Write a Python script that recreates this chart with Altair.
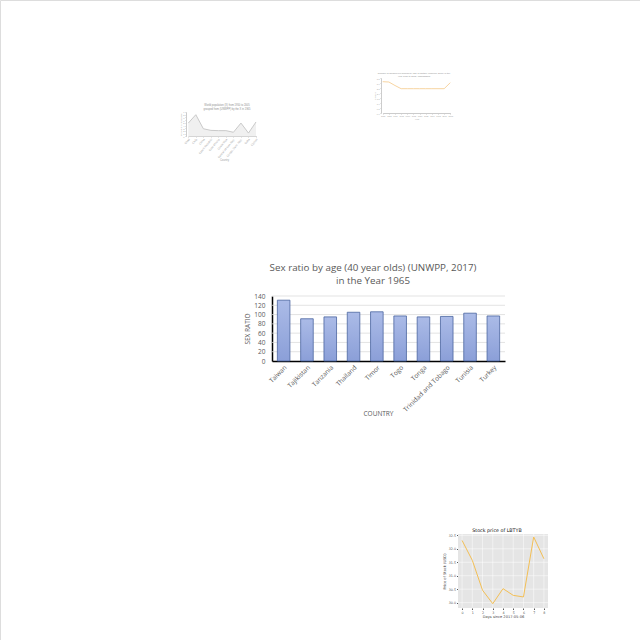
import altair as alt
import pandas as pd

# ---------------- main chart (bar) ----------------
countries = ["Taiwan", "Tajikistan", "Tanzania", "Thailand", "Timor", "Togo",
             "Tonga", "Trinidad and Tobago", "Tunisia", "Turkey"]
sex_ratio = [131, 91, 95, 105, 106, 97, 95, 96, 103, 97]
ratio_ticks = [0, 20, 40, 60, 80, 100, 120, 140]
main_title = ["Sex ratio by age (40 year olds) (UNWPP, 2017)", "in the Year 1965"]

# ---------------- thumbnail 1 (grey line) ----------------
t1_labels = ["Chad", "Chile", "China", "Czech Republic", "Cote d'Ivoire", "Costa Rica",
             "Central African Rep.", "Congo, Dem. Rep.", "Cuba", "Cyprus"]
t1_values = [4.9, 8.0, 2.8, 2.2, 2.1, 2.1, 1.5, 4.9, 1.2, 5.3]
t1_ticks = [0, 1, 2, 3, 4, 5, 6, 7, 8, 9]
t1_title = ["World population (X) from 1950 to 2005", "grouped from (UNWPP) by the X in 1965"]

# ---------------- thumbnail 2 (orange line) ----------------
t2_years = ["1950", "1955", "1960", "1965", "1970", "1975", "1980", "1985",
            "1990", "1995", "2000", "2005"]
t2_values = [3.13, 3.10, 2.75, 2.43, 2.43, 2.43, 2.43, 2.43, 2.43, 2.43, 2.43, 3.03]
t2_ticks = [0, 0.5, 1.0, 1.5, 2.0, 2.5, 3.0, 3.5]
t2_title = ["Number of children per woman by age of mother (UNWPP, 2017) in the",
            "Year 1950 to 2005, Madagascar"]

# ---------------- thumbnail 3 (stock) ----------------
days = [0, 1, 2, 3, 4, 5, 6, 7, 8]
price = [32.31, 31.57, 30.46, 29.96, 30.52, 30.27, 30.21, 32.44, 31.63]
price_ticks = [30.0, 30.5, 31.0, 31.5, 32.0, 32.5]
day_domain = [-0.4, 8.4]
price_domain = [29.8, 32.55]
stock_title = "Stock price of LBTYB"

GREY = "#595959"

# ======== main bar chart ========
main_df = pd.DataFrame({"country": countries, "ratio": sex_ratio})
grid_df = pd.DataFrame({"ratio": ratio_ticks[1:]})
y_main = alt.Scale(domain=[0, 140], range=[361, 296], nice=False, zero=True)
y_main_axis = alt.Axis(orient="left", offset=-272, values=ratio_ticks, domainColor="#000000",
                       domainWidth=1.5, ticks=False, grid=False, labelFont="Open Sans",
                       labelFontSize=6.5, labelColor=GREY, labelPadding=7,
                       title="SEX RATIO", titleFont="Open Sans", titleFontSize=6.5,
                       titleFontWeight="normal", titleColor=GREY, titlePadding=3)

main_grid = alt.Chart(grid_df).mark_rule(color="#d9d9d9", strokeWidth=0.75).encode(
    y=alt.Y("ratio:Q", scale=y_main, axis=y_main_axis),
    x=alt.value(272), x2=alt.value(505),
)

bar_fill = alt.Gradient(
    gradient="linear",
    stops=[alt.GradientStop(color="#abbbe7", offset=0),
           alt.GradientStop(color="#8b9fd8", offset=1)],
    x1=0, x2=0, y1=0, y2=1,
)

main_bars = alt.Chart(main_df).mark_bar(fill=bar_fill, stroke="#4a64a0", strokeWidth=0.8).encode(
    x=alt.X("country:N", sort=countries,
            scale=alt.Scale(range=[272, 505], paddingInner=0.46, paddingOuter=0.23),
            axis=alt.Axis(orient="bottom", offset=-279, domainColor="#000000", domainWidth=1.5,
                          ticks=False, grid=False, labelAngle=-45, labelFont="Open Sans",
                          labelFontSize=6.5, labelColor=GREY, labelPadding=3,
                          title="COUNTRY", titleFont="Open Sans", titleFontSize=6.5,
                          titleFontWeight="normal", titleColor=GREY, titleX=378, titleY=52,
                          titleAlign="center", titleBaseline="middle")),
    y=alt.Y("ratio:Q", scale=y_main, axis=y_main_axis),
)
main_chart = alt.layer(main_grid, main_bars)

main_title_text = alt.Chart(pd.DataFrame({"t": ["\n".join(main_title)]})).mark_text(
    font="Open Sans", fontSize=9.8, color=GREY, align="center", baseline="middle",
    lineBreak="\n", lineHeight=12.5,
).encode(text="t:N", x=alt.value(373), y=alt.value(268))

# ======== thumbnail 1 ========
t1_df = pd.DataFrame({"c": t1_labels, "v": t1_values})
x_t1 = alt.Scale(type="point", domain=t1_labels, range=[188.3, 256], padding=0)
y_t1 = alt.Scale(domain=[0, 9], range=[136.3, 112], nice=False)
x_t1_axis = alt.Axis(orient="bottom", offset=-504, labelAngle=-50, labelFontSize=2.8,
                     labelColor="#a0a0a0", domainColor="#cccccc", tickColor="#cccccc",
                     tickSize=1, labelPadding=1, grid=False, title="Country",
                     titleFontSize=2.6, titleColor="#a0a0a0", titleFontWeight="normal",
                     titleX=224, titleY=23, titleAlign="center")
y_t1_axis = alt.Axis(orient="left", offset=-186, values=t1_ticks, labelFontSize=2.3,
                     labelColor="#a0a0a0", domainColor="#cccccc", tickColor="#cccccc",
                     tickSize=1, labelPadding=1, grid=False,
                     title="Population (thousands)", titleFontSize=2.2,
                     titleColor="#a0a0a0", titleFontWeight="normal", titlePadding=1)
t1_area = alt.Chart(t1_df).mark_area(color="#f0f0f0").encode(
    x=alt.X("c:N", sort=t1_labels, scale=x_t1, axis=x_t1_axis),
    y=alt.Y("v:Q", scale=y_t1, axis=y_t1_axis),
)
t1_line = alt.Chart(t1_df).mark_line(color="#c4c4c4", strokeWidth=0.9).encode(
    x=alt.X("c:N", sort=t1_labels, scale=x_t1, axis=x_t1_axis),
    y=alt.Y("v:Q", scale=y_t1, axis=y_t1_axis),
)
t1_chart = alt.layer(t1_area, t1_line)
t1_title_text = alt.Chart(pd.DataFrame({"t": ["\n".join(t1_title)]})).mark_text(
    fontSize=2.6, color="#909090", align="center", baseline="middle",
    lineBreak="\n", lineHeight=4.5,
).encode(text="t:N", x=alt.value(227), y=alt.value(104.5))

# ======== thumbnail 2 ========
t2_df = pd.DataFrame({"yr": t2_years, "v": t2_values})
t2_chart = alt.Chart(t2_df).mark_line(color="#f6cf96", strokeWidth=0.9).encode(
    x=alt.X("yr:N", sort=t2_years,
            scale=alt.Scale(type="point", domain=t2_years, range=[382.7, 450.3], padding=0),
            axis=alt.Axis(orient="bottom", offset=-527, labelAngle=0, labelFontSize=2,
                          labelColor="#a0a0a0", domainColor="#cccccc", tickColor="#cccccc",
                          tickSize=1, labelPadding=0.5, grid=False, title="Year",
                          titleFontSize=2.2, titleColor="#a0a0a0", titleFontWeight="normal",
                          titlePadding=1)),
    y=alt.Y("v:Q", scale=alt.Scale(domain=[0, 3.5], range=[113, 78], nice=False),
            axis=alt.Axis(orient="left", offset=-381, values=t2_ticks, format=".1f",
                          labelFontSize=2, labelColor="#a0a0a0", domainColor="#cccccc",
                          tickColor="#cccccc", tickSize=1, labelPadding=1, grid=False,
                          title="Children", titleFontSize=2, titleColor="#a0a0a0",
                          titleFontWeight="normal", titlePadding=1)),
)
t2_title_text = alt.Chart(pd.DataFrame({"t": ["\n".join(t2_title)]})).mark_text(
    fontSize=2.3, color="#909090", align="center", baseline="middle",
    lineBreak="\n", lineHeight=3.8,
).encode(text="t:N", x=alt.value(414), y=alt.value(72.5))

# ======== thumbnail 3 (stock) ========
x_st = alt.Scale(domain=day_domain, range=[458, 548], nice=False, zero=False)
y_st = alt.Scale(domain=price_domain, range=[608, 534], nice=False, zero=False)
x_st_axis = alt.Axis(orient="bottom", offset=-32, values=days, domain=False,
                     tickColor="#555555", tickSize=1.5, labelFontSize=3.3,
                     labelColor="#555555", labelPadding=0.5, grid=False,
                     labelFont="DejaVu Sans", title="Days since 2017-05-06",
                     titleFont="DejaVu Sans", titleFontSize=3.6, titleColor="#444444",
                     titleFontWeight="normal", titlePadding=0.8)
y_st_axis = alt.Axis(orient="left", offset=-458, values=price_ticks, format=".1f",
                     domain=False, tickColor="#555555", tickSize=1.5, labelFontSize=3.3,
                     labelColor="#555555", labelPadding=1, grid=False,
                     labelFont="DejaVu Sans", title="Price of Stock (USD)",
                     titleFont="DejaVu Sans", titleFontSize=3.6, titleColor="#444444",
                     titleFontWeight="normal", titlePadding=1.5)

bg_df = pd.DataFrame({"d": [day_domain[0]], "d2": [day_domain[1]],
                      "p": [price_domain[0]], "p2": [price_domain[1]]})
st_bg = alt.Chart(bg_df).mark_rect(color="#e5e5e5").encode(
    x=alt.X("d:Q", scale=x_st, axis=x_st_axis), x2="d2:Q",
    y=alt.Y("p:Q", scale=y_st, axis=y_st_axis), y2="p2:Q",
)
hgrid_df = pd.DataFrame({"p": price_ticks, "d": day_domain[0], "d2": day_domain[1]})
vgrid_df = pd.DataFrame({"d": days, "p": price_domain[0], "p2": price_domain[1]})
st_hgrid = alt.Chart(hgrid_df).mark_rule(color="#ffffff", strokeWidth=0.5).encode(
    y=alt.Y("p:Q", scale=y_st, axis=y_st_axis),
    x=alt.X("d:Q", scale=x_st, axis=x_st_axis), x2="d2:Q",
)
st_vgrid = alt.Chart(vgrid_df).mark_rule(color="#ffffff", strokeWidth=0.5).encode(
    x=alt.X("d:Q", scale=x_st, axis=x_st_axis),
    y=alt.Y("p:Q", scale=y_st, axis=y_st_axis), y2="p2:Q",
)
st_df = pd.DataFrame({"d": days, "p": price})
st_line = alt.Chart(st_df).mark_line(color="#f3bf55", strokeWidth=1).encode(
    x=alt.X("d:Q", scale=x_st, axis=x_st_axis),
    y=alt.Y("p:Q", scale=y_st, axis=y_st_axis),
)
st_chart = alt.layer(st_bg, st_hgrid, st_vgrid, st_line)
st_title_text = alt.Chart(pd.DataFrame({"t": [stock_title]})).mark_text(
    font="DejaVu Sans", fontSize=4.8, color="#111111", align="center", baseline="middle",
).encode(text="t:N", x=alt.value(497), y=alt.value(531))

chart = alt.layer(
    t1_chart, t1_title_text,
    t2_chart, t2_title_text,
    main_chart, main_title_text,
    st_chart, st_title_text,
).resolve_scale(x="independent", y="independent").properties(
    width=640, height=640, autosize="none", padding=0,
).configure_view(strokeWidth=0).configure(background="white")

chart.save("out.html", embed_options={"renderer": "svg", "actions": False})
